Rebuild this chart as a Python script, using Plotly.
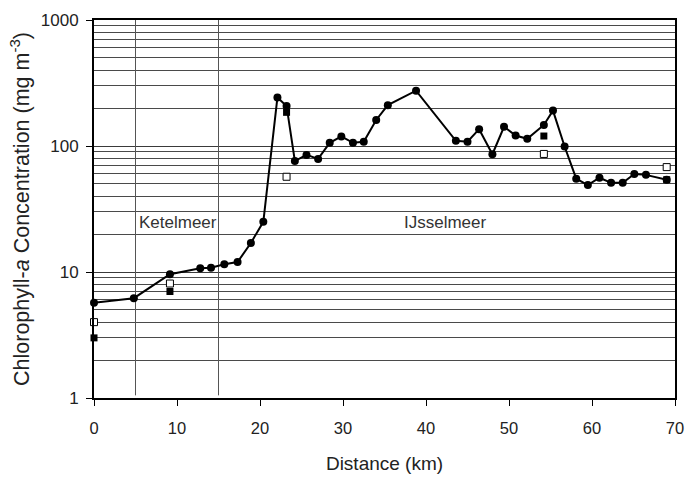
import math
import plotly.graph_objects as go

# Main transect (filled circles)
dist = [0, 4.8, 9.15, 12.8, 14.1, 15.7, 17.3, 18.9, 20.4, 22.1, 23.2, 24.2, 25.6, 27.0,
        28.4, 29.8, 31.2, 32.5, 34.0, 35.4, 38.8, 43.6, 45.0, 46.4, 48.0, 49.4, 50.8,
        52.2, 54.2, 55.3, 56.7, 58.1, 59.5, 60.9, 62.3, 63.7, 65.1, 66.5, 69.0]
chl = [5.7, 6.2, 9.6, 10.7, 10.8, 11.5, 12.0, 17, 25, 243, 208, 76, 85, 79,
       106, 119, 106, 108, 161, 211, 275, 110, 108, 136, 86, 142, 121,
       114, 147, 191, 99, 55, 49, 56, 51, 51, 60, 59, 54]

# Open squares
open_dist = [0, 9.15, 23.2, 54.2, 69.0]
open_chl = [4.0, 8.1, 57, 86.5, 68]

# Filled squares
fill_dist = [0, 9.15, 23.2, 54.2, 69.0]
fill_chl = [3.0, 7.0, 185, 120, 54]

# Lake boundaries and labels
boundaries = [5, 15]
lake_names = ["Ketelmeer", "IJsselmeer"]
lake_x = [10.1, 42.4]
lake_y = [24.5, 24.5]

major_y = [1, 10, 100, 1000]
minor_y = [m * 10 ** k for k in range(3) for m in range(2, 10)]
x_ticks = [0, 10, 20, 30, 40, 50, 60, 70]

fig = go.Figure()

for b in boundaries:
    fig.add_trace(go.Scatter(x=[b, b], y=[1.05, 1000], mode="lines",
                             line=dict(color="#555555", width=1),
                             showlegend=False, hoverinfo="skip"))

fig.add_trace(go.Scatter(x=dist, y=chl, mode="lines+markers",
                         line=dict(color="black", width=2),
                         marker=dict(symbol="circle", size=8, color="black"),
                         showlegend=False, cliponaxis=False))
fig.add_trace(go.Scatter(x=open_dist, y=open_chl, mode="markers",
                         marker=dict(symbol="square", size=7, color="white",
                                     line=dict(color="black", width=1)),
                         showlegend=False, cliponaxis=False))
fig.add_trace(go.Scatter(x=fill_dist, y=fill_chl, mode="markers",
                         marker=dict(symbol="square", size=7, color="black"),
                         showlegend=False, cliponaxis=False))

for name, xx, yy in zip(lake_names, lake_x, lake_y):
    fig.add_annotation(x=xx, y=math.log10(yy), text=name,
                       showarrow=False, font=dict(size=17, color="#333333"))

fig.update_layout(
    width=685, height=477,
    margin=dict(l=94, r=9.5, t=20, b=79),
    plot_bgcolor="white", paper_bgcolor="white",
    font=dict(family="Liberation Sans, Arial, sans-serif", size=17, color="#222222"),
    showlegend=False,
)
fig.update_xaxes(
    range=[0, 70], tickvals=x_ticks, ticks="outside", ticklen=6, tickcolor="black",
    tickfont=dict(size=16.5), ticklabelstandoff=8, ticklabeloverflow="allow",
    showline=True, linecolor="black", linewidth=2, mirror=True,
    showgrid=False, zeroline=False, automargin=False,
    title=dict(text="Distance (km)", standoff=21, font=dict(size=19)),
)
fig.update_yaxes(
    type="log", range=[0, 3], tickvals=major_y, ticktext=[str(v) for v in major_y],
    ticks="outside", ticklen=6, tickcolor="black",
    tickfont=dict(size=17), ticklabelstandoff=4,
    showline=True, linecolor="black", linewidth=2, mirror=True,
    showgrid=True, gridcolor="#3a3a3a", gridwidth=1, automargin=False,
    minor=dict(tickvals=minor_y, showgrid=True, gridcolor="#4a4a4a", gridwidth=1, ticks=""),
    title=dict(text="Chlorophyll-<i>a</i> Concentration (mg m<sup>-3</sup>)", standoff=5,
               font=dict(size=21.5)),
)

# remove the default page margin so the figure fills the window exactly
fig.write_html(
    "out.html",
    config={"displayModeBar": False},
    post_script="document.body.style.margin='0';document.documentElement.style.overflow='hidden';",
)
